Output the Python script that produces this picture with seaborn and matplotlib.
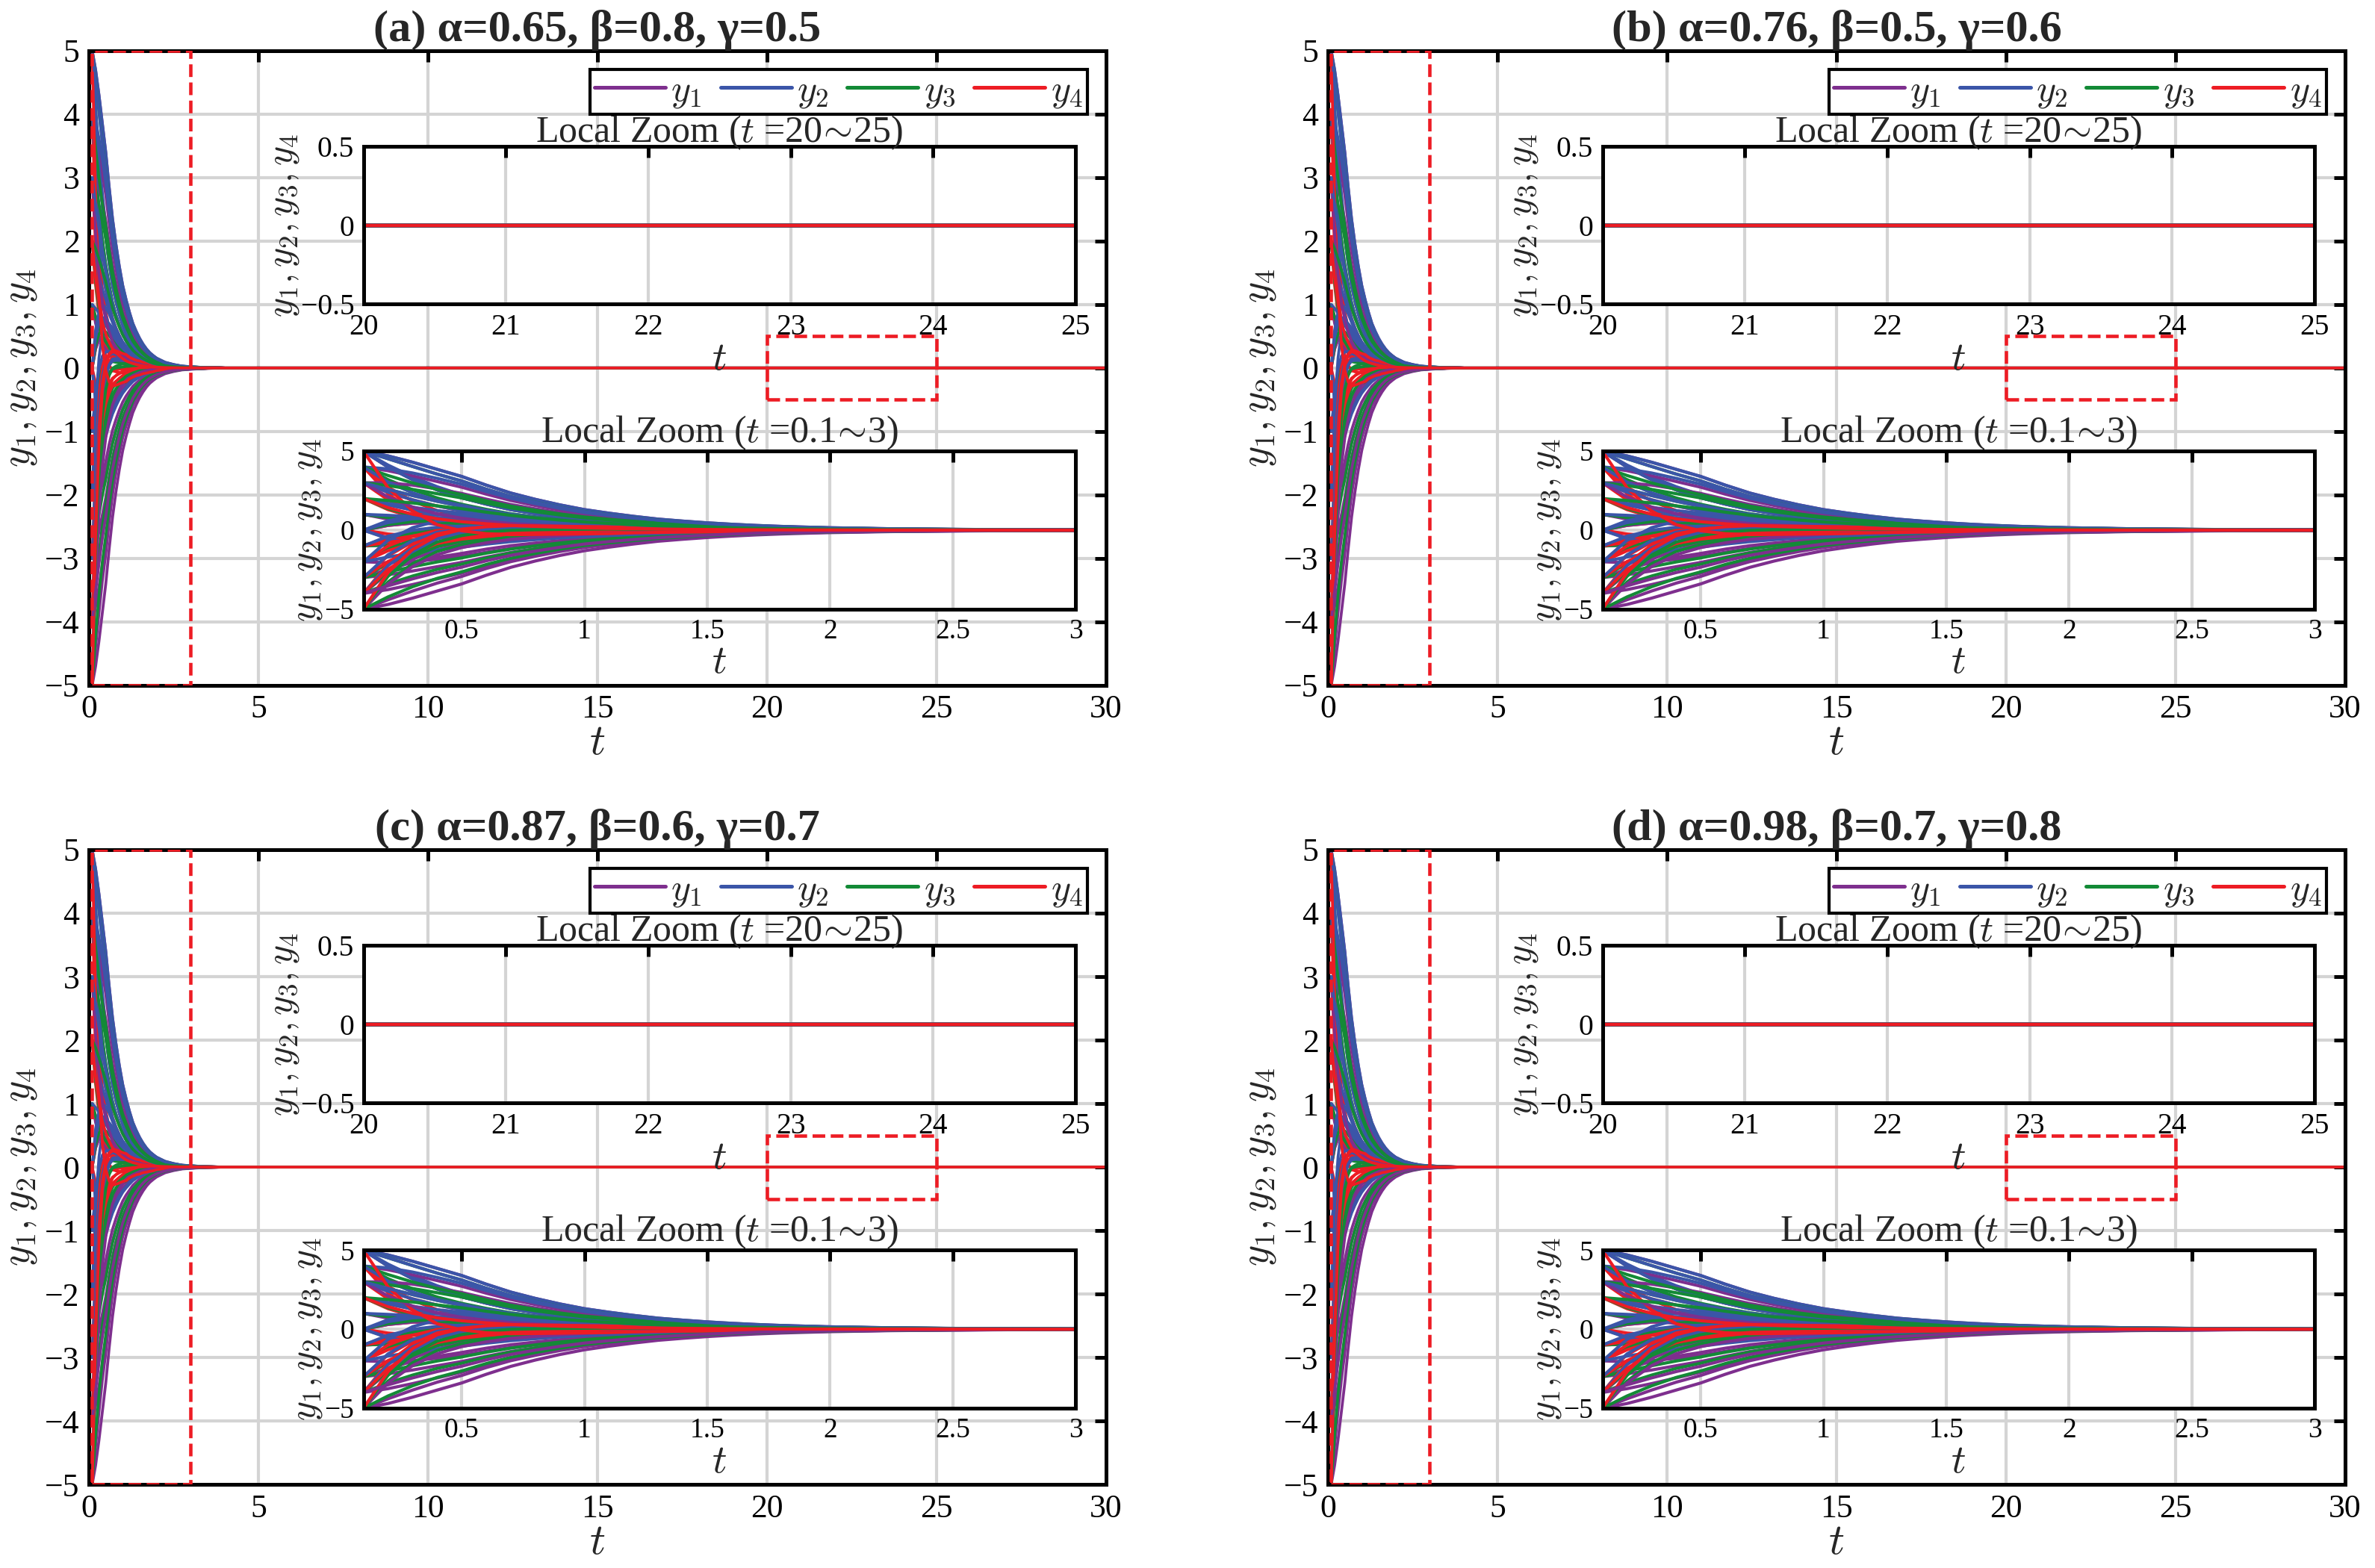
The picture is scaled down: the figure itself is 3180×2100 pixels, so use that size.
import numpy as np
import pandas as pd
import matplotlib
matplotlib.use('Agg')
import matplotlib.pyplot as plt
import matplotlib.ticker as mticker
import seaborn as sns
from matplotlib.lines import Line2D
from matplotlib.patches import Rectangle

# time grid the trajectories were read on
T = [0.1, 0.2, 0.3, 0.4, 0.5, 0.6, 0.7, 0.8, 0.9, 1.0, 1.1, 1.2, 1.3, 1.4, 1.5,
     1.6, 1.7, 1.8, 1.9, 2.0, 2.25, 2.5, 2.75, 3.0, 3.5, 4.0, 30.0]

# normalised decay shapes
SLOW = [1.0, 0.94, 0.86, 0.77, 0.68, 0.57, 0.47, 0.39, 0.32, 0.26, 0.215, 0.175,
        0.14, 0.115, 0.093, 0.075, 0.06, 0.048, 0.039, 0.031, 0.018, 0.011,
        0.006, 0.004, 0.001, 0.0, 0.0]
FAST = [1.0, 0.80, 0.64, 0.51, 0.41, 0.33, 0.26, 0.21, 0.17, 0.135, 0.107, 0.085,
        0.068, 0.055, 0.044, 0.035, 0.028, 0.022, 0.017, 0.014, 0.008, 0.005,
        0.003, 0.002, 0.0, 0.0, 0.0]
HUMP = [0.0, 0.6, 0.9, 1.0, 0.95, 0.85, 0.72, 0.6, 0.5, 0.41, 0.34, 0.27, 0.22,
        0.18, 0.15, 0.12, 0.1, 0.08, 0.065, 0.05, 0.03, 0.018, 0.01, 0.006,
        0.002, 0.0, 0.0]

# initial values (t = 0.1), decay shape (0 slow, 1 fast) and bump size per curve
Y1_START = [5, 5, 4, 3, 2, 1, 1, 0, 0, -1, -2, -3, -3, -4, -4, -5, -5, -5, 3, -4]
Y1_RATE = [0, 1, 0, 0, 1, 0, 1, 0, 1, 0, 0, 0, 0, 0, 1, 0, 0, 1, 1, 0]
Y1_HUMP = [0, 0, 0, 0.3, 0, -0.4, 0, 0.5, -0.8, 0, -0.3, 0, 0.6, 0, 0.8, 0, 0.5, 1.0, -0.5, 0.4]

Y2_START = [5, 5, 5, 4, 4, 3, 2, 2, 1, 0, 0, 0, -1, -2, -2, -3, -4, -5, 5, 3]
Y2_RATE = [0, 1, 1, 0, 0, 1, 0, 1, 0, 0, 1, 1, 1, 1, 0, 1, 1, 1, 0, 1]
Y2_HUMP = [0, 0.2, 0, 0.2, -1.2, 0, -0.3, 0, 0, 1.0, -0.9, 0.8, 0.7, 1.6, 0.3, 1.4, 1.6, 2.0, -0.3, 0.3]

Y3_START = [5, 5, 4, 4, 3, 3, 2, 1, 0, -1, -1, -2, -3, -3, -4, -4, -5, -5, -5, 2]
Y3_RATE = [1, 0, 1, 0, 1, 0, 1, 1, 1, 1, 0, 1, 1, 0, 1, 0, 1, 1, 0, 0]
Y3_HUMP = [0, -0.3, 0, -0.5, 0.3, 0, -0.4, 0, 0.6, 0.5, 0, 0.7, 0.5, 0.3, 1.0, 0.6, 1.2, 1.8, 0.8, 0]

Y4_START = [4, 4, 3, 3, 2, 1, 0, 0, -1, -1, -1, -2, -2, -3, -3, -4, -4, 5, -5, 2]
Y4_RATE = [1, 1, 1, 1, 1, 1, 1, 1, 1, 1, 0, 1, 1, 1, 1, 1, 1, 1, 1, 1]
Y4_HUMP = [-1.5, -0.8, -0.8, 0, -0.5, 0, 0.5, -0.4, 0.6, 0.3, 0.3, 1.0, 0.5, 1.3, 0.7, 1.8, 1.2, -2.2, 2.2, -0.3]

VARS = ['y1', 'y2', 'y3', 'y4']
LABELS = ['$y_1$', '$y_2$', '$y_3$', '$y_4$']
COLORS = ['#7E2F8E', '#3B55A8', '#138A36', '#ED1C24']
TITLES = ['(a) α=0.65, β=0.8, γ=0.5', '(b) α=0.76, β=0.5, γ=0.6',
          '(c) α=0.87, β=0.6, γ=0.7', '(d) α=0.98, β=0.7, γ=0.8']


def build_frame():
    """Long table, runs numbered so that the four states of one run are drawn together."""
    shapes = [np.array(SLOW), np.array(FAST)]
    hump = np.array(HUMP)
    groups = [(Y1_START, Y1_RATE, Y1_HUMP), (Y2_START, Y2_RATE, Y2_HUMP),
              (Y3_START, Y3_RATE, Y3_HUMP), (Y4_START, Y4_RATE, Y4_HUMP)]
    parts = []
    colors = {}
    run = 0
    for i in range(len(Y1_START)):
        for name, color, (starts, rates, humps) in zip(VARS, COLORS, groups):
            vals = starts[i] * shapes[rates[i]] + humps[i] * hump
            parts.append(pd.DataFrame({'t': T, 'y': vals, 'var': name, 'run': run}))
            colors[run] = color
            run += 1
    return pd.concat(parts, ignore_index=True), colors


sns.set_theme(style='white')
plt.rcParams['font.family'] = ['Liberation Serif', 'DejaVu Serif']
plt.rcParams['mathtext.fontset'] = 'cm'
plt.rcParams['axes.unicode_minus'] = True

df, run_colors = build_frame()
fmt = mticker.FuncFormatter(lambda v, p: ('%g' % v).replace('-', '\u2212'))


def style_axes(ax, tick_size):
    ax.grid(True, color='#d4d4d4', lw=1.0)
    ax.tick_params(direction='in', top=True, right=True, length=3.5, width=1.2,
                   labelsize=tick_size, pad=3, colors='black')
    for s in ax.spines.values():
        s.set_color('black')
        s.set_linewidth(1.2)
    ax.set_axisbelow(True)


def draw_lines(ax, lw):
    sns.lineplot(data=df, x='t', y='y', hue='run', estimator=None,
                 hue_order=sorted(run_colors), palette=run_colors, lw=lw,
                 legend=False, sort=False, ax=ax)


fig = plt.figure(figsize=(10.6, 7.0), dpi=300)
positions = [(0.0374, 0.5629), (0.5591, 0.5629), (0.0374, 0.0533), (0.5591, 0.0533)]
W, H = 0.4283, 0.4048

for title, (x0, y0) in zip(TITLES, positions):
    ax = fig.add_axes([x0, y0, W, H])
    draw_lines(ax, 0.9)
    ax.set_xlim(0, 30)
    ax.set_ylim(-5, 5)
    ax.set_xticks(range(0, 31, 5))
    ax.set_yticks(range(-5, 6))
    ax.yaxis.set_major_formatter(fmt)
    style_axes(ax, 10.5)
    ax.set_xlabel('$t$', fontsize=14, labelpad=0)
    ax.set_ylabel('$y_1, y_2, y_3, y_4$', fontsize=13, labelpad=2)
    ax.set_title(title, fontsize=14.5, fontweight='bold', pad=3)

    ax.add_patch(Rectangle((0.1, -5), 2.9, 10, fill=False, ec='#ED1C24', ls='--', lw=1.1, zorder=4))
    ax.add_patch(Rectangle((20, -0.5), 5, 1, fill=False, ec='#ED1C24', ls='--', lw=1.1, zorder=4))

    handles = [Line2D([], [], color=c, lw=1.2) for c in COLORS]
    leg = ax.legend(handles, LABELS, loc='upper right', ncol=4, fontsize=12,
                    frameon=True, fancybox=False, edgecolor='black', framealpha=1,
                    handlelength=1.9, handletextpad=0.15, columnspacing=0.5,
                    borderpad=0.12, borderaxespad=0.5)
    leg.get_frame().set_linewidth(1.0)

    # zoom on the settled part
    ins1 = ax.inset_axes([0.27, 0.601, 0.70, 0.248])
    ins1.set_facecolor('white')
    draw_lines(ins1, 1.0)
    ins1.set_xlim(20, 25)
    ins1.set_ylim(-0.5, 0.5)
    ins1.set_xticks(range(20, 26))
    ins1.set_yticks([-0.5, 0, 0.5])
    ins1.xaxis.set_major_formatter(fmt)
    ins1.yaxis.set_major_formatter(fmt)
    style_axes(ins1, 9.5)
    ins1.set_xlabel('$t$', fontsize=13, labelpad=0)
    ins1.set_ylabel('$y_1, y_2, y_3, y_4$', fontsize=12, labelpad=0)
    ins1.set_title('Local Zoom ($t$ =20$\\!\\sim\\!$25)', fontsize=12, pad=1.5)

    # zoom on the transient
    ins2 = ax.inset_axes([0.27, 0.12, 0.70, 0.249])
    ins2.set_facecolor('white')
    draw_lines(ins2, 1.0)
    ins2.set_xlim(0.1, 3)
    ins2.set_ylim(-5, 5)
    ins2.set_xticks([0.5, 1, 1.5, 2, 2.5, 3])
    ins2.set_yticks([-5, 0, 5])
    ins2.xaxis.set_major_formatter(fmt)
    ins2.yaxis.set_major_formatter(fmt)
    style_axes(ins2, 9)
    ins2.set_xlabel('$t$', fontsize=13, labelpad=0)
    ins2.set_ylabel('$y_1, y_2, y_3, y_4$', fontsize=12, labelpad=0)
    ins2.set_title('Local Zoom ($t$ =0.1$\\!\\sim\\!$3)', fontsize=12, pad=3)

fig.savefig('out.png', dpi=300)
